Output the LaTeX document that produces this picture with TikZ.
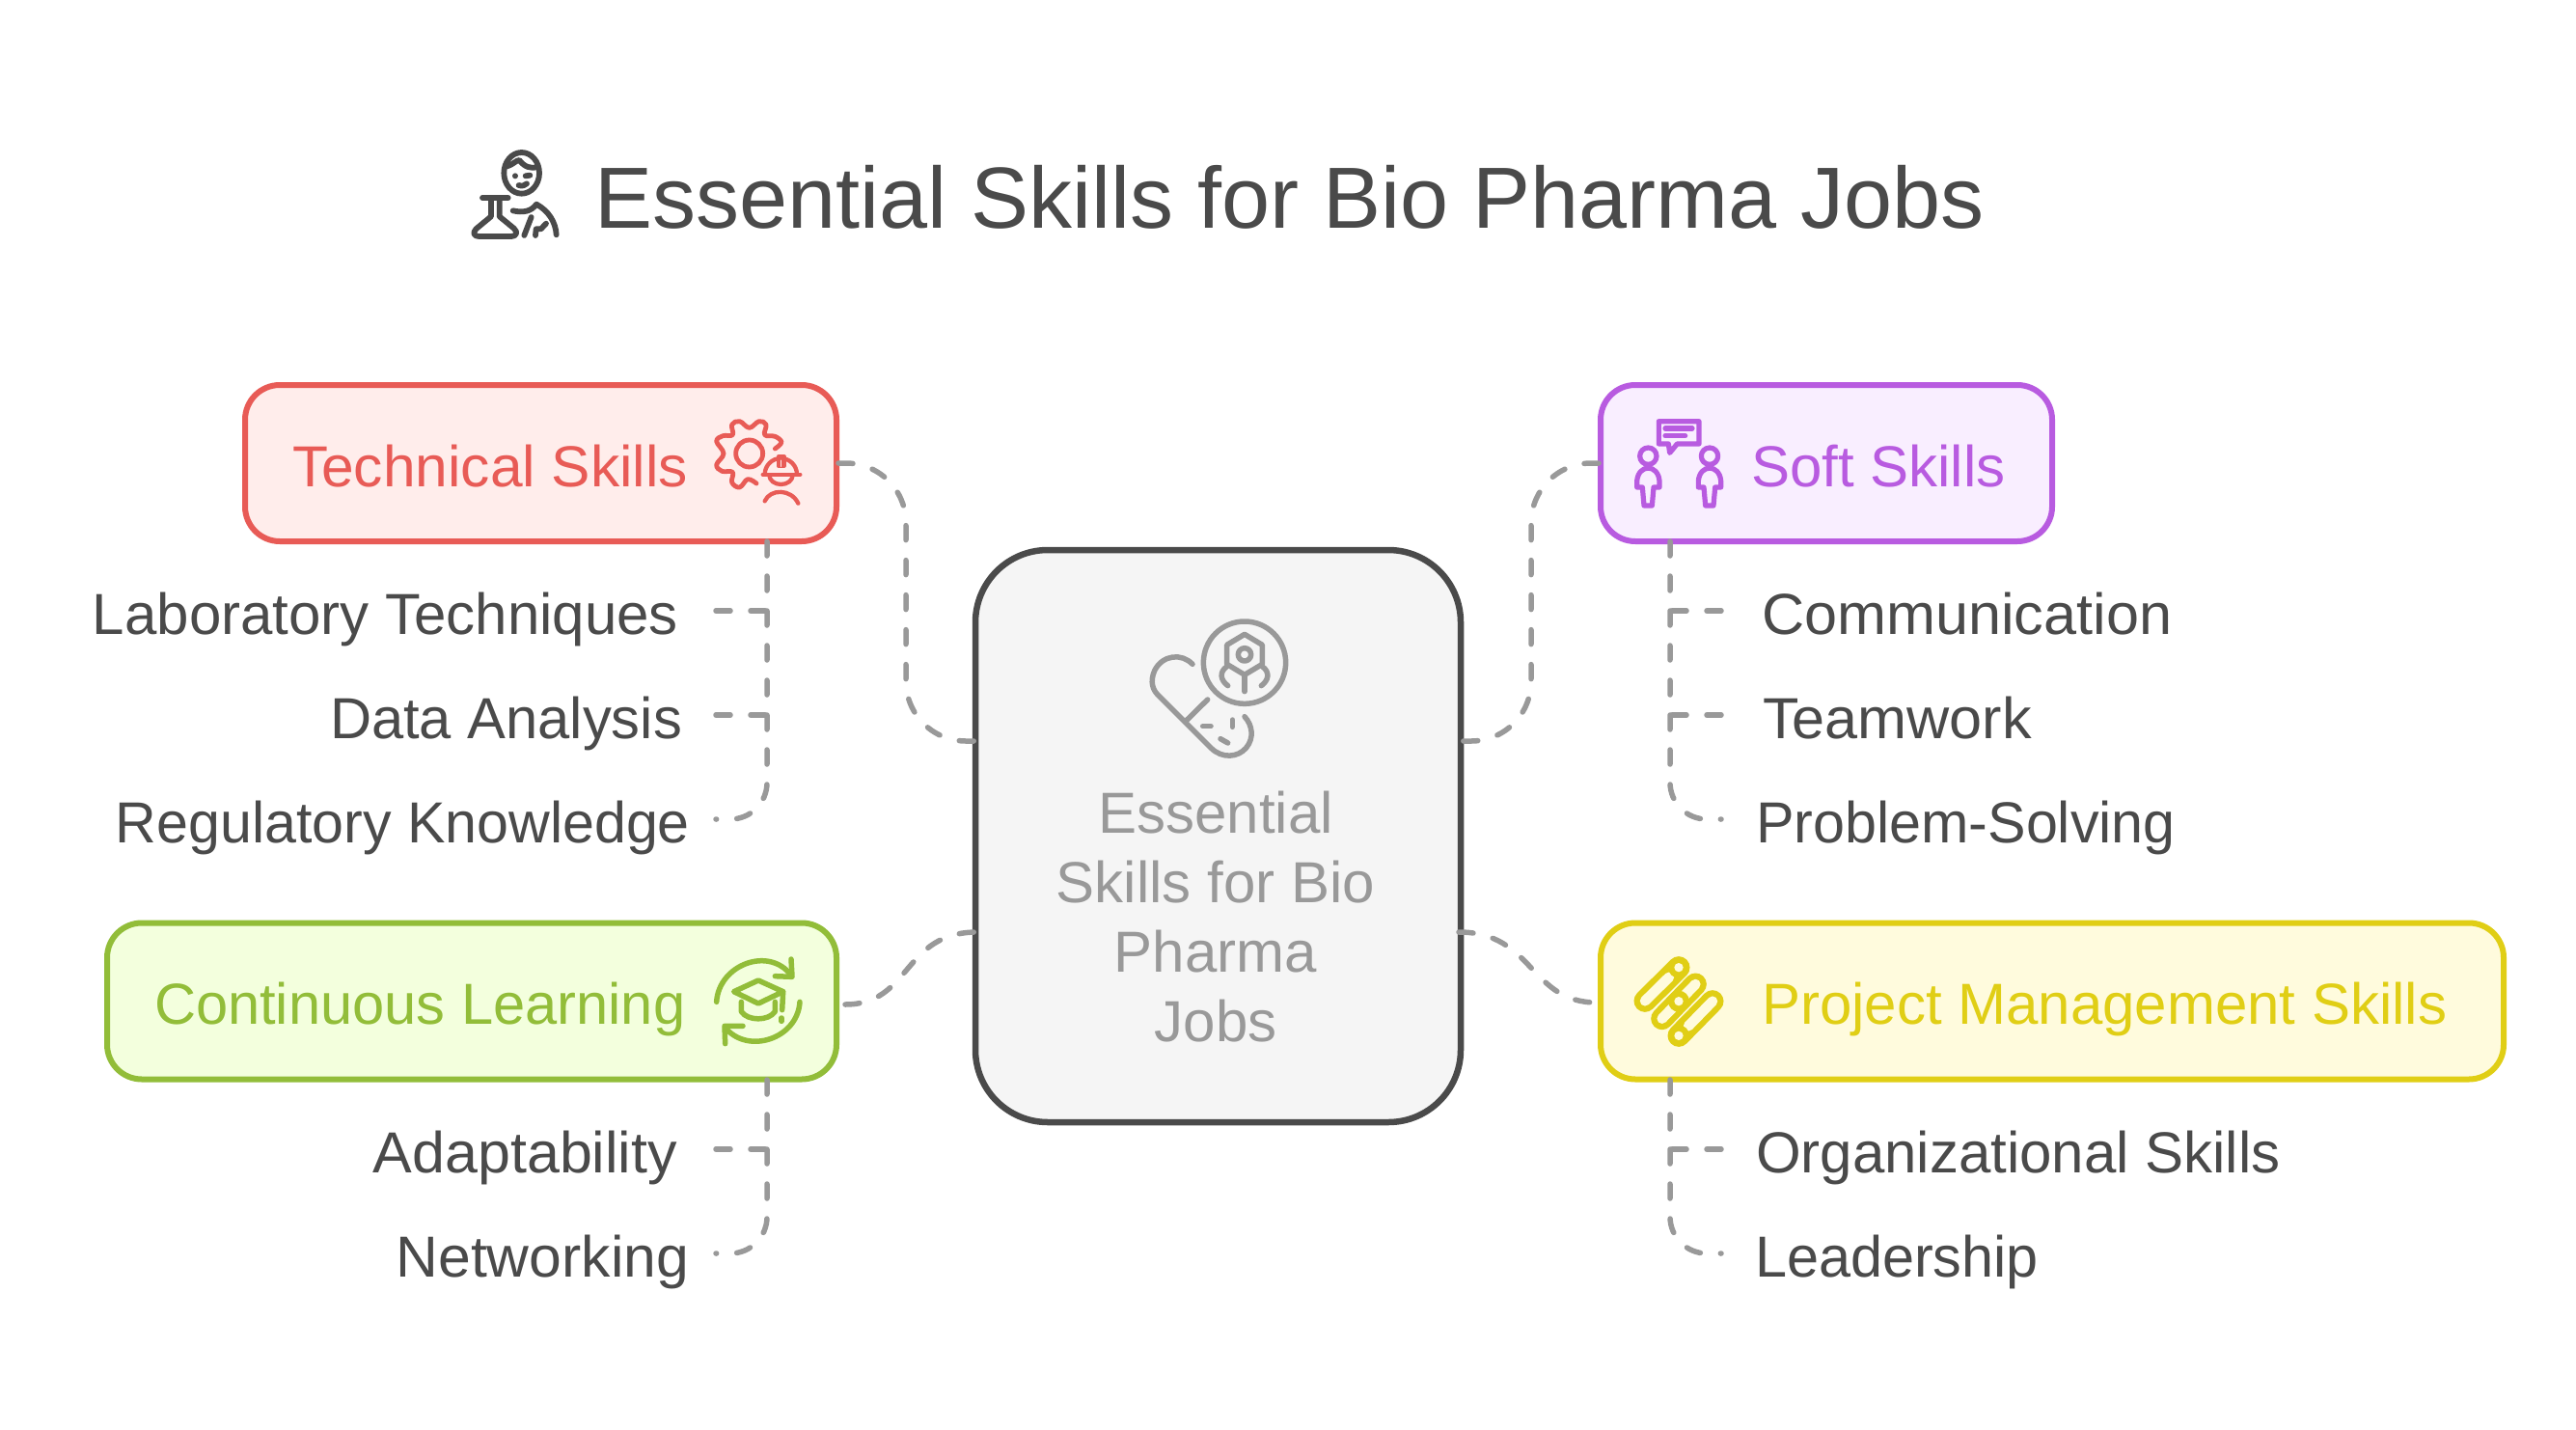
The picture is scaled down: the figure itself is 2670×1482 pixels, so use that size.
\documentclass[tikz,border=0pt]{standalone}
\usepackage{graphicx}
\usepackage{fontspec}
\setmainfont{Liberation Sans}
\definecolor{ink}{HTML}{4A4A4A}
\definecolor{dashc}{HTML}{999999}
\definecolor{midtext}{HTML}{999999}
\definecolor{midF}{HTML}{F5F5F5}
\definecolor{redS}{HTML}{E85B56}\definecolor{redF}{HTML}{FFEDEB}
\definecolor{purS}{HTML}{B85BE0}\definecolor{purF}{HTML}{F9EEFF}
\definecolor{grnS}{HTML}{92BD39}\definecolor{grnF}{HTML}{F3FFDD}
\definecolor{yelS}{HTML}{E0CE15}\definecolor{yelF}{HTML}{FFFBDD}
\newcommand{\hsc}[2]{\scalebox{#1}[1]{#2}}
\tikzset{
  x=1pt,y=-1pt,
  box/.style={draw,rounded corners=36pt,line width=6pt,outer sep=0pt,inner sep=0pt},
  midbox/.style={draw=ink,fill=midF,rounded corners=75pt,line width=6.5pt,outer sep=0pt,inner sep=0pt},
  conn/.style={draw=dashc,line width=5.5pt,line cap=round,dash pattern=on 15pt off 21pt},
  lab/.style={font=\fontsize{60}{72}\selectfont,text=ink,inner sep=0pt,outer sep=0pt},
  ico/.style={line cap=round,line join=round,line width=5pt},
  zoomed/.style={scale=1/3},
}
\begin{document}
\begin{tikzpicture}
\useasboundingbox (0,0) rectangle (2670,1482);
% title
\node[font=\fontsize{90}{100}\selectfont,text=ink,inner sep=0pt,anchor=base west] (title) at (616,236) {Essential Skills for Bio Pharma Jobs};
% boxes
\node[box,draw=redS,fill=redF,minimum width=613pt,minimum height=162pt] (tech) at (560.5,480) {};
\node[box,draw=purS,fill=purF,minimum width=468pt,minimum height=162pt] (soft) at (1893,480) {};
\node[box,draw=grnS,fill=grnF,minimum width=756pt,minimum height=162pt] (cont) at (489,1037.5) {};
\node[box,draw=yelS,fill=yelF,minimum width=936pt,minimum height=162pt] (proj) at (2127,1037.5) {};
\node[midbox,minimum width=503pt,minimum height=593pt] (mid) at (1262.5,866.5) {};
% box labels
\node[lab,text=redS,anchor=base west] (ltech) at (303,504) {\hsc{1.008}{Technical Skills}};
\node[lab,text=purS,anchor=base west] (lsoft) at (1815,504) {Soft Skills};
\node[lab,text=grnS,anchor=base west] (lcont) at (160,1061) {\hsc{.994}{Continuous Learning}};
\node[lab,text=yelS,anchor=base west] (lproj) at (1826,1061) {Project Management Skills};
% middle text
\node[lab,text=midtext,anchor=base] (m1) at (1260,863) {Essential};
\node[lab,text=midtext,anchor=base] (m2) at (1260,935) {Skills for Bio};
\node[lab,text=midtext,anchor=base] (m3) at (1260,1007) {Pharma};
\node[lab,text=midtext,anchor=base] (m4) at (1260,1079) {Jobs};
% leaves left
\node[lab,anchor=base east] (a1) at (703,657) {Laboratory Techniques};
\node[lab,anchor=base east] (a2) at (707,765) {\hsc{.995}{Data Analysis}};
\node[lab,anchor=base east] (a3) at (715,873) {\hsc{.986}{Regulatory Knowledge}};
\node[lab,anchor=base east] (c1) at (702,1215) {\hsc{1.016}{Adaptability}};
\node[lab,anchor=base east] (c2) at (714,1323) {\hsc{1.011}{Networking}};
% leaves right
\node[lab,anchor=base west] (b1) at (1826,657) {\hsc{1.02}{Communication}};
\node[lab,anchor=base west] (b2) at (1827,765) {\hsc{1.02}{Teamwork}};
\node[lab,anchor=base west] (b3) at (1820,873) {\hsc{.988}{Problem-Solving}};
\node[lab,anchor=base west] (d1) at (1820,1215) {Organizational Skills};
\node[lab,anchor=base west] (d2) at (1819,1323) {\hsc{.99}{Leadership}};
% anchor coordinates
\coordinate (mL1) at (1013,768);
\coordinate (mL2) at (1013,966);
\coordinate (mR1) at (1512,768);
\coordinate (mR2) at (1512,966);
\coordinate (tT) at (795,561);\coordinate (sT) at (1731,561);
\coordinate (cT) at (795,1119);\coordinate (pT) at (1731,1119);
\coordinate (a1e) at (742,633);\coordinate (a2e) at (742,741);\coordinate (a3e) at (742,849);
\coordinate (b1e) at (1784,633);\coordinate (b2e) at (1784,741);\coordinate (b3e) at (1784,849);
\coordinate (c1e) at (742,1191);\coordinate (c2e) at (742,1299);
\coordinate (d1e) at (1784,1191);\coordinate (d2e) at (1784,1299);
\coordinate (tS) at (869,480);\coordinate (sS) at (1657,480);
\coordinate (cS) at (876,1041);\coordinate (pS) at (1655,1039);
% connectors
\draw[conn,rounded corners=62pt] (tS) -- (939,480) -- (939,768) -- (mL1);
\draw[conn,rounded corners=62pt] (sS) -- (1587,480) -- (1587,768) -- (mR1);
\draw[conn] (cS) .. controls (945,1041) and (935,966) .. (mL2);
\draw[conn] (mR2) .. controls (1590,966) and (1585,1039) .. (pS);
\draw[conn,rounded corners=38pt] (tT) -- (795,849) -- (a3e);
\draw[conn,rounded corners=38pt] (sT) -- (1731,849) -- (b3e);
\draw[conn,rounded corners=38pt] (cT) -- (795,1299) -- (c2e);
\draw[conn,rounded corners=38pt] (pT) -- (1731,1299) -- (d2e);
\draw[conn] (a1e) -- (795,633) -- (795,636);
\draw[conn] (a2e) -- (795,741) -- (795,744);
\draw[conn] (c1e) -- (795,1191) -- (795,1194);
\draw[conn] (b1e) -- (1731,633) -- (1731,636);
\draw[conn] (b2e) -- (1731,741) -- (1731,744);
\draw[conn] (d1e) -- (1731,1191) -- (1731,1194);
% title icon
\begin{scope}[shift={(460,130)},zoomed,ico,draw=ink,line width=5.8pt]
\draw (242,148) ellipse[x radius=55,y radius=64];
\draw (197,127) .. controls (215,122) and (225,108) .. (235,108) .. controls (250,128) and (270,137) .. (293,128);
\fill[ink] (222,157) circle[radius=9];
\draw (254,157) -- (268,155);
\draw (233,186) .. controls (245,190) and (252,186) .. (258,181);
\draw (120,225) -- (200,225);
\draw (147,225) -- (147,283) -- (100,322) .. controls (88,335) and (95,345) .. (110,345) -- (210,345) .. controls (225,345) and (232,332) .. (218,320) -- (173,283) -- (173,225);
\draw (215,265) .. controls (245,272) and (272,268) .. (288,245) .. controls (325,265) and (348,300) .. (350,340);
\draw (272,285) -- (250,342);
\draw (285,342) -- (287,322) -- (302,322) -- (318,305);
\end{scope}
% gear icon
\begin{scope}[shift={(720,420)},zoomed,ico,draw=redS,line width=4.8pt]
\draw plot[smooth,tension=.65] coordinates {(250,135)(270,115)(250,97)(218,92)(222,60)(200,50)(170,70)(140,50)(116,60)(118,92)(88,95)(68,112)(90,150)(68,185)(85,205)(118,208)(116,240)(140,255)(165,230)(192,243)};
\draw (170,150) circle[radius=42];
\draw[line width=4.3pt] (218,215) arc[start angle=180,end angle=360,radius=50];
\draw[line width=4.3pt] (212,215) -- (328,215);
\draw[fill=redS,line width=4pt] (260,188) -- (260,160) -- (278,160) -- (278,188) -- cycle;
\draw[redF,line width=1.6pt] (269,172) -- (269,190);
\draw[line width=4.3pt] (232,217) arc[start angle=180,end angle=0,x radius=36.5,y radius=29];
\draw[line width=4.3pt] (218,298) .. controls (235,259) and (300,259) .. (322,305);
\end{scope}
% continuous icon
\begin{scope}[shift={(720,980)},zoomed,ico,draw=grnS,line width=5.5pt]
\draw (68,175) .. controls (75,60) and (230,0) .. (300,92);
\draw (300,42) -- (303,97) -- (250,95);
\draw (327,175) .. controls (320,290) and (165,340) .. (95,255);
\draw (95,305) -- (93,250) -- (150,250);
\draw (122,143) -- (198,108) -- (275,143) -- (198,180) -- cycle;
\draw (145,175) -- (145,205) .. controls (165,235) and (230,235) .. (250,205) -- (250,175);
\draw (275,143) -- (272,200);
\draw (270,225) -- (270,235);
\end{scope}
% soft icon
\begin{scope}[shift={(1680,420)},zoomed,ico,draw=purS,line width=5.2pt]
\draw (118,50) -- (243,50) -- (243,120) -- (175,120) -- (152,148) -- (148,120) -- (118,120) -- cycle;
\draw (138,72) -- (222,72);
\draw (138,95) -- (200,95);
\foreach \dx in {0,191}{
\draw (85+\dx,158) circle[radius=26];
\draw (50+\dx,255) -- (50+\dx,235) .. controls (55+\dx,182) and (115+\dx,182) .. (120+\dx,235) -- (120+\dx,255) -- (102+\dx,255) -- (97+\dx,312) -- (72+\dx,312) -- (67+\dx,255) -- cycle;
}
\end{scope}
% project icon
\begin{scope}[shift={(1680,980)},zoomed,line cap=round]
\draw[yelS,line width=23pt] (180,68) -- (75,172);
\draw[yelS,line width=23pt] (232,120) -- (128,227);
\draw[yelS,line width=23pt] (285,173) -- (180,280);
\draw[yelF,line width=10.5pt] (150,98) -- (75,172);
\draw[yelF,line width=10.5pt] (232,120) -- (128,227);
\draw[yelF,line width=10.5pt] (285,173) -- (210,250);
\foreach \cx/\cy in {180/68,180/173,180/280}{
  \fill[yelS] (\cx,\cy) circle[radius=33];
  \fill[yelF] (\cx,\cy) circle[radius=14];
}
\end{scope}
% middle icon
\begin{scope}[shift={(1160,620)},zoomed,ico,draw=dashc,line width=5.5pt]
\draw (390,200) circle[radius=128];
\draw (390,112) -- (445,145) -- (445,205) -- (390,238) -- (335,205) -- (335,145) -- cycle;
\draw (390,175) circle[radius=20];
\draw (390,238) -- (390,290);
\draw (335,212) .. controls (310,230) and (315,255) .. (338,272);
\draw (445,212) .. controls (470,230) and (465,255) .. (442,272);
\draw (228,205) .. controls (195,170) and (135,175) .. (110,225) .. controls (95,260) and (105,285) .. (120,300) -- (285,465) .. controls (320,500) and (370,495) .. (395,465) .. controls (420,435) and (415,395) .. (390,368);
\draw (207,382) -- (275,315);
\draw (260,398) -- (285,398);
\draw (352,378) -- (352,400);
\draw (315,437) -- (338,450);
\end{scope}
\end{tikzpicture}
\end{document}
